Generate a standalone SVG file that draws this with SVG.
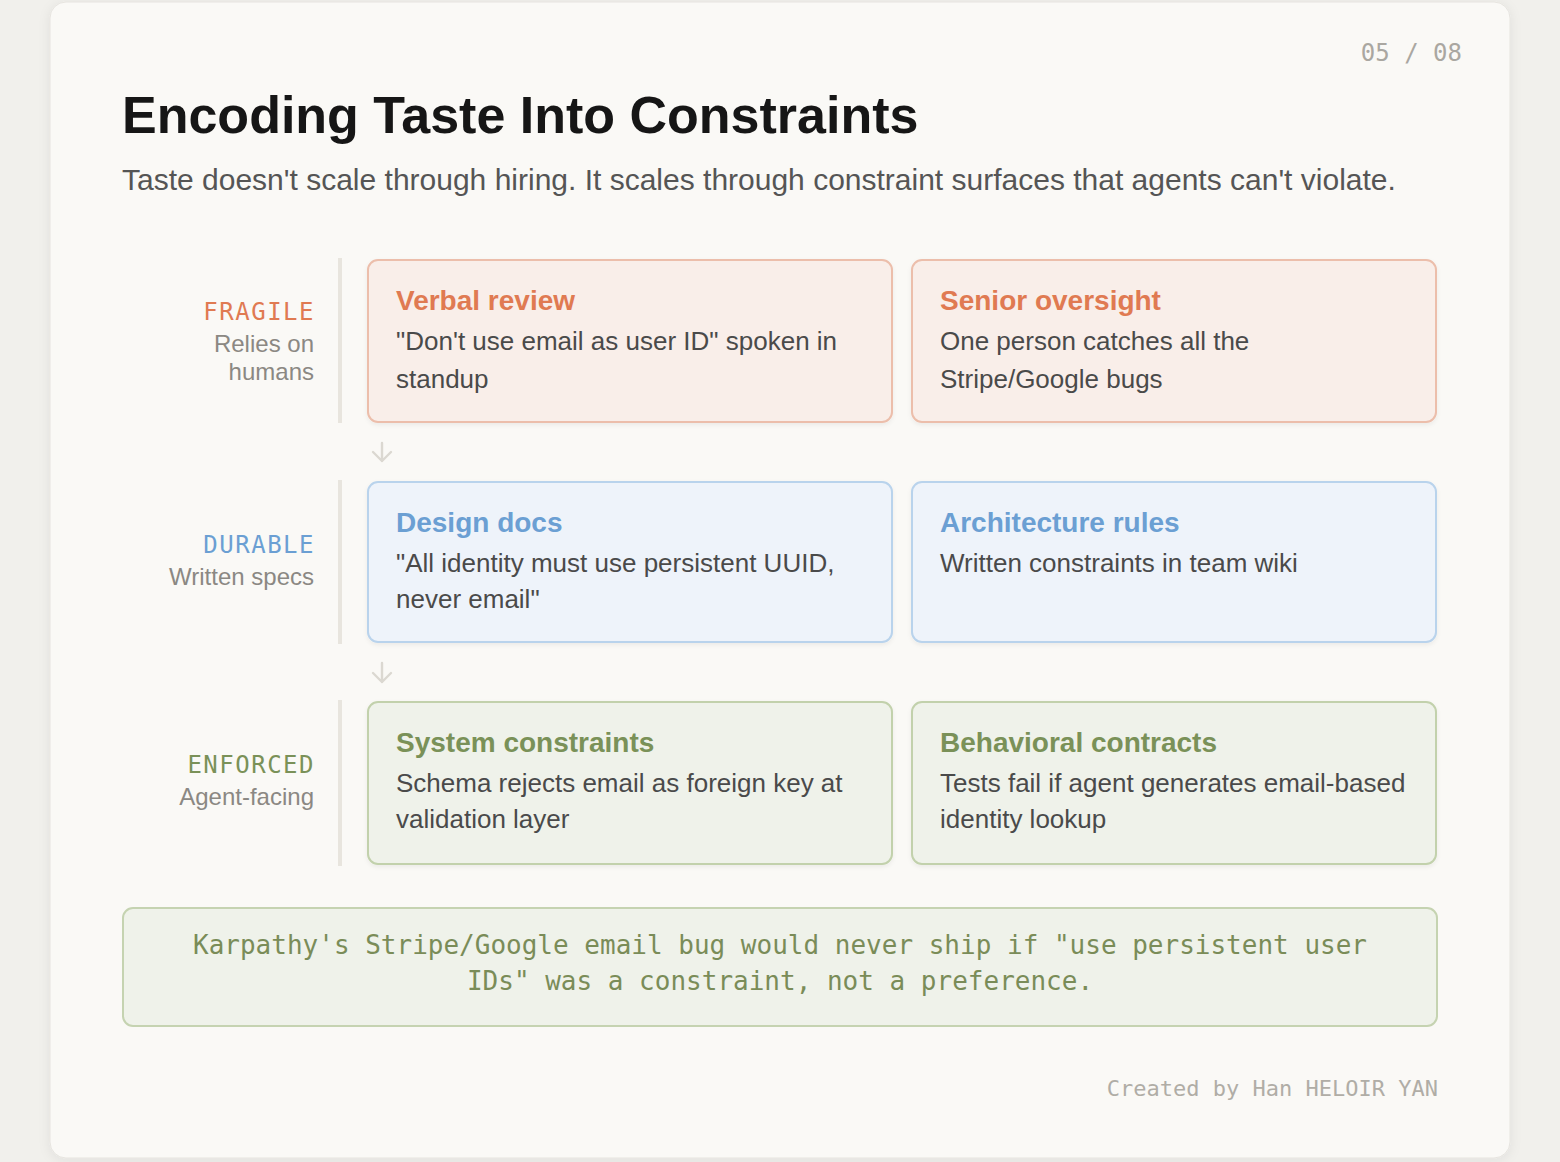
<svg xmlns="http://www.w3.org/2000/svg" width="1560" height="1162" viewBox="0 0 1560 1162">
  <defs>
    <filter id="pageShadow" x="-5%" y="-5%" width="110%" height="110%">
      <feDropShadow dx="0" dy="2" stdDeviation="6" flood-color="#000" flood-opacity="0.07"/>
    </filter>
    <filter id="cardShadow" x="-5%" y="-10%" width="110%" height="125%">
      <feDropShadow dx="0" dy="2" stdDeviation="2" flood-color="#000" flood-opacity="0.06"/>
    </filter>
    <style>
      .sans { font-family: "Liberation Sans", Arial, sans-serif; }
      .mono { font-family: "DejaVu Sans Mono", "Liberation Mono", monospace; }
      .title { font-size: 52px; font-weight: bold; fill: #161616; }
      .subtitle { font-size: 30px; fill: #555555; }
      .pageno { font-size: 24px; fill: #aaa7a1; }
      .tier { font-size: 24px; letter-spacing: 1.5px; text-anchor: end; }
      .tiersub { font-size: 24px; fill: #8b8883; text-anchor: end; }
      .rule { fill: #e8e5de; }
      .card { stroke-width: 2; filter: url(#cardShadow); }
      .fragile { fill: #f9eee9; stroke: #ecbeab; }
      .durable { fill: #eef3fa; stroke: #b9d3ec; }
      .enforced { fill: #eff2ea; stroke: #c2d1ac; }
      .ctitle { font-size: 28px; font-weight: bold; }
      .cbody { font-size: 26px; fill: #4a4a4a; }
      .c-or { fill: #e07a52; }
      .c-bl { fill: #6b9fd3; }
      .c-gr { fill: #7a9158; }
      .arrow { fill: none; stroke: #dbd8d1; stroke-width: 2.4; stroke-linecap: round; stroke-linejoin: round; }
      .quote { font-size: 26px; fill: #7a8c58; text-anchor: middle; }
      .credit { font-size: 22px; fill: #b0ada6; text-anchor: end; }
    </style>
  </defs>

  <rect x="0" y="0" width="1560" height="1162" fill="#f1f0ec"/>
  <rect x="50" y="2" width="1460" height="1156" rx="16" fill="#faf9f6" stroke="#e6e4df" stroke-width="1" filter="url(#pageShadow)"/>

  <text class="mono pageno" x="1462" y="61" text-anchor="end">05 / 08</text>
  <text class="sans title" x="122" y="133">Encoding Taste Into Constraints</text>
  <text class="sans subtitle" x="122" y="190">Taste doesn't scale through hiring. It scales through constraint surfaces that agents can't violate.</text>

  <!-- Tier labels -->
  <g id="tier-fragile">
    <text class="mono tier c-or" x="315" y="320">FRAGILE</text>
    <text class="sans tiersub" x="314" y="352">Relies on</text>
    <text class="sans tiersub" x="314" y="380">humans</text>
    <rect class="rule" x="338" y="258" width="4" height="165"/>
  </g>
  <g id="tier-durable">
    <text class="mono tier c-bl" x="315" y="553">DURABLE</text>
    <text class="sans tiersub" x="314" y="585">Written specs</text>
    <rect class="rule" x="338" y="480" width="4" height="164"/>
  </g>
  <g id="tier-enforced">
    <text class="mono tier c-gr" x="315" y="773">ENFORCED</text>
    <text class="sans tiersub" x="314" y="805">Agent-facing</text>
    <rect class="rule" x="338" y="700" width="4" height="166"/>
  </g>

  <!-- Row 1 -->
  <g id="verbal-review">
    <rect class="card fragile" x="368" y="260" width="524" height="162" rx="10"/>
    <text class="sans ctitle c-or" x="396" y="310">Verbal review</text>
    <text class="sans cbody" x="396" y="350">"Don't use email as user ID" spoken in</text>
    <text class="sans cbody" x="396" y="388">standup</text>
  </g>
  <g id="senior-oversight">
    <rect class="card fragile" x="912" y="260" width="524" height="162" rx="10"/>
    <text class="sans ctitle c-or" x="940" y="310">Senior oversight</text>
    <text class="sans cbody" x="940" y="350">One person catches all the</text>
    <text class="sans cbody" x="940" y="388">Stripe/Google bugs</text>
  </g>

  <!-- Row 2 -->
  <g id="design-docs">
    <rect class="card durable" x="368" y="482" width="524" height="160" rx="10"/>
    <text class="sans ctitle c-bl" x="396" y="532">Design docs</text>
    <text class="sans cbody" x="396" y="572">"All identity must use persistent UUID,</text>
    <text class="sans cbody" x="396" y="608">never email"</text>
  </g>
  <g id="architecture-rules">
    <rect class="card durable" x="912" y="482" width="524" height="160" rx="10"/>
    <text class="sans ctitle c-bl" x="940" y="532">Architecture rules</text>
    <text class="sans cbody" x="940" y="572">Written constraints in team wiki</text>
  </g>

  <!-- Row 3 -->
  <g id="system-constraints">
    <rect class="card enforced" x="368" y="702" width="524" height="162" rx="10"/>
    <text class="sans ctitle c-gr" x="396" y="752">System constraints</text>
    <text class="sans cbody" x="396" y="792">Schema rejects email as foreign key at</text>
    <text class="sans cbody" x="396" y="828">validation layer</text>
  </g>
  <g id="behavioral-contracts">
    <rect class="card enforced" x="912" y="702" width="524" height="162" rx="10"/>
    <text class="sans ctitle c-gr" x="940" y="752">Behavioral contracts</text>
    <text class="sans cbody" x="940" y="792">Tests fail if agent generates email-based</text>
    <text class="sans cbody" x="940" y="828">identity lookup</text>
  </g>

  <!-- Connectors -->
  <g id="connectors">
    <path class="arrow" d="M382 443 V461 M373 452 L382 461 L391 452"/>
    <path class="arrow" d="M382 663 V682 M373 673 L382 682 L391 673"/>
  </g>

  <!-- Quote -->
  <g id="quote">
    <rect x="123" y="908" width="1314" height="118" rx="10" fill="#eff2ea" stroke="#c5d3b1" stroke-width="2"/>
    <text class="mono quote" x="780" y="954">Karpathy's Stripe/Google email bug would never ship if "use persistent user</text>
    <text class="mono quote" x="780" y="990">IDs" was a constraint, not a preference.</text>
  </g>

  <text class="mono credit" x="1438" y="1096">Created by Han HELOIR YAN</text>
</svg>
